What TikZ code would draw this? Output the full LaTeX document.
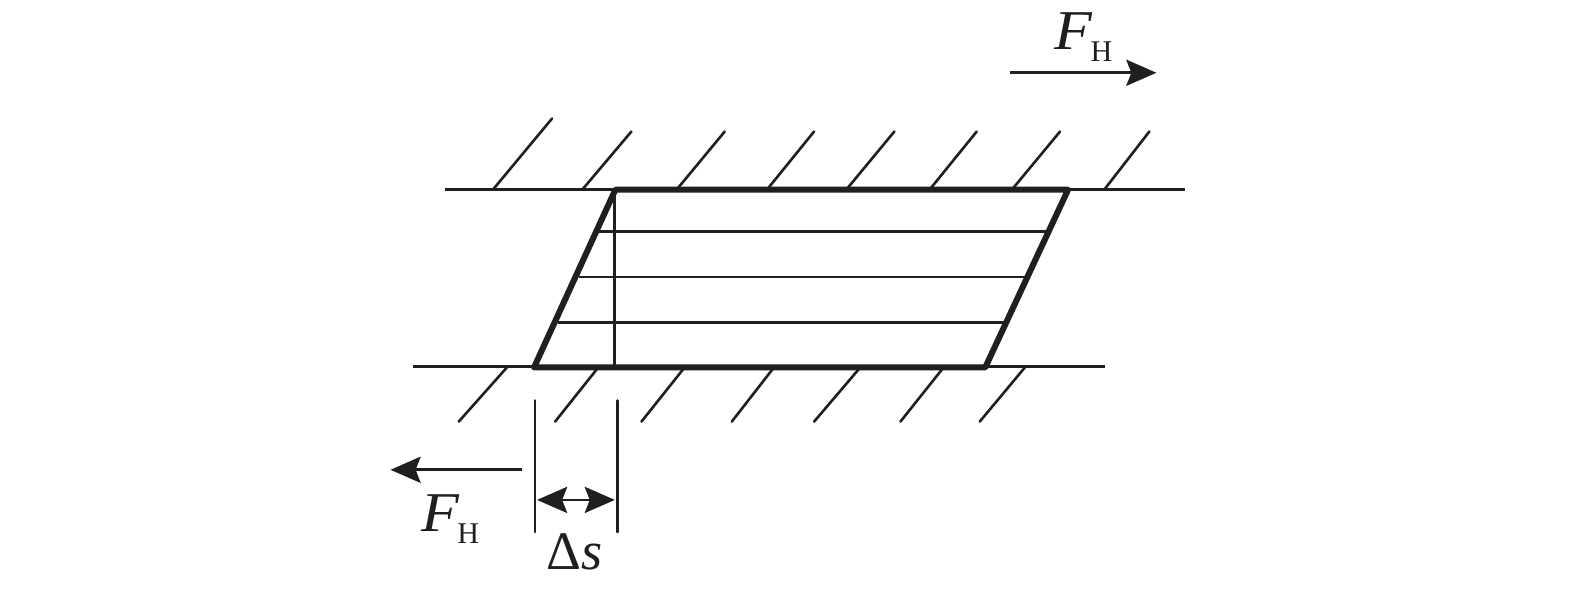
\documentclass[tikz,border=0pt]{standalone}
\usepackage{fontspec}
\setmainfont{Liberation Serif}
\usetikzlibrary{arrows.meta}
\newcommand{\forcelabel}{\scalebox{1.1}[1]{\textit{F}}\kern-1pt\raisebox{-6pt}{\fontsize{15pt}{15pt}\selectfont H}}
\begin{document}
\begin{tikzpicture}[
  x=0.5pt, y=-0.5pt,
  thinline/.style={line width=1.4pt, color=black!88},
  thickline/.style={line width=3pt, color=black!88, line join=round, line cap=round},
  hatch/.style={line width=1.3pt, color=black!88, line cap=round},
  force/.style={line width=1.4pt, color=black!88, -{Stealth[length=15pt, width=13pt, inset=2.5pt]}},
  dimen/.style={line width=1.4pt, color=black!88, {Stealth[length=15pt, width=13pt, inset=2.5pt]}-{Stealth[length=15pt, width=13pt, inset=2.5pt]}},
  label/.style={inner sep=0pt, anchor=base west, font=\fontsize{28pt}{28pt}\selectfont, color=black!88}
]
\useasboundingbox (0,-1) rectangle (1569,587.7);

% corners of the sheared block
\coordinate (tl) at (613,188);
\coordinate (tr) at (1064,188);
\coordinate (br) at (981.5,365);
\coordinate (bl) at (532,365);

% walls
\draw[thinline] (443,188) -- (1180,188);
\draw[thinline] (411,364) -- (1101,364);
\foreach \a/\b/\c in {491/550/117, 580/629/130, 674/722/130, 764/811/130, 843/891/130, 926/973/130, 1008/1056/130, 1100/1145/130}
  \draw[hatch] (\a,188) -- (\b,\c);
\foreach \a/\b in {505/457, 596/553, 682/639, 771/729, 857/811, 940/897, 1021/976}
  \draw[hatch] (\a,365) -- (\b,419);

% layers
\draw[thinline] (597,230) -- (1043,230);
\draw[thinline] (577,275) -- (1021,275);
\draw[thinline] (556,320) -- (1001,320);
\draw[thinline] (612,188) -- (612,364);
\draw[thickline] (tl) -- (tr) -- (br) -- (bl) -- cycle;

% forces
\coordinate (topstart) at (1006,71.5);
\coordinate (topend) at (1152,71.5);
\coordinate (leftstart) at (520,467);
\coordinate (leftend) at (389,467);
\draw[force] (topstart) -- (topend);
\draw[force] (leftstart) -- (leftend);
\node[label] (ftop) at (1050,48) {\forcelabel};
\node[label] (fleft) at (419,528) {\forcelabel};

% displacement
\coordinate (d1a) at (533,398);
\coordinate (d1b) at (533,529);
\coordinate (d2a) at (615.5,398);
\coordinate (d2b) at (615.5,529);
\draw[thinline, line cap=round] (d1a) -- (d1b);
\draw[thinline, line cap=round] (d2a) -- (d2b);
\draw[dimen] (535,497) -- (612.5,497);
\node[label, font=\fontsize{27pt}{27pt}\selectfont] (ds) at (544,566) {Δ\textit{s}};
\end{tikzpicture}
\end{document}
